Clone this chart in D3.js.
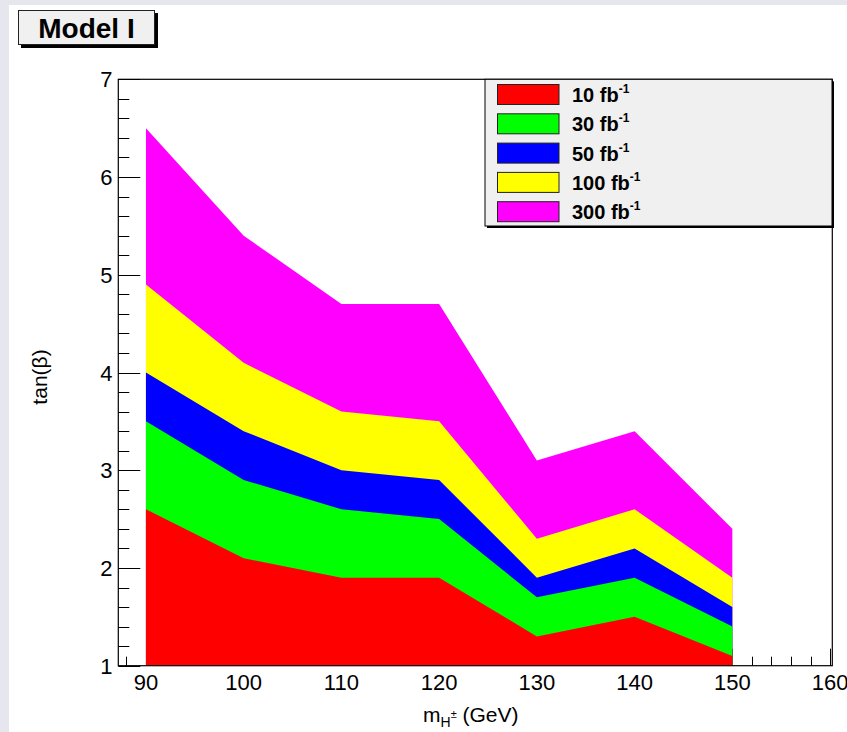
<!DOCTYPE html>
<html>
<head>
<meta charset="utf-8">
<script src="https://cdn.jsdelivr.net/npm/d3@7"></script>
<style>
  html, body { margin: 0; padding: 0; background: #e6e6ef; }
  svg { display: block; }
  text { font-family: "Liberation Sans", Arial, Helvetica, sans-serif; fill: #000; }
</style>
</head>
<body>
<svg id="chart" width="847" height="732"></svg>
<script>
// Charged Higgs mass points (GeV)
const masses = [90, 100, 110, 120, 130, 140, 150];

// Reach in tan(beta) for each integrated luminosity
const lumiLabels = ["10", "30", "50", "100", "300"];
const reach10  = [2.6, 2.1, 1.9, 1.9, 1.3, 1.5, 1.1];
const reach30  = [3.5, 2.9, 2.6, 2.5, 1.7, 1.9, 1.4];
const reach50  = [4.0, 3.4, 3.0, 2.9, 1.9, 2.2, 1.6];
const reach100 = [4.9, 4.1, 3.6, 3.5, 2.3, 2.6, 1.9];
const reach300 = [6.5, 5.4, 4.7, 4.7, 3.1, 3.4, 2.4];
const colors = ["#ff0000", "#00ff00", "#0000ff", "#ffff00", "#ff00ff"];

const xTicks = [90, 100, 110, 120, 130, 140, 150, 160];
const yTicks = [1, 2, 3, 4, 5, 6, 7];

const series = [reach10, reach30, reach50, reach100, reach300];

const svg = d3.select("#chart");

// canvas area
svg.append("rect").attr("x", 9).attr("y", 5).attr("width", 838).attr("height", 727).attr("fill", "#fff");

const frame = { left: 118.3, right: 832.3, top: 79.3, bottom: 665.7 };
const x = d3.scaleLinear().domain([87.17, 160.23]).range([frame.left, frame.right]);
const y = d3.scaleLinear().domain([1, 7]).range([frame.bottom, frame.top]);

// ticks (drawn below the filled regions)
const ticksG = svg.append("g").attr("stroke", "#000").attr("stroke-width", 1);
d3.range(88, 160.01, 2).forEach(v => {
  const major = Math.abs(v % 10) < 1e-6;
  const px = Math.round(x(v)) + 0.5;
  ticksG.append("line").attr("x1", px).attr("x2", px)
    .attr("y1", frame.bottom).attr("y2", frame.bottom - (major ? 17 : 9));
});
d3.range(1, 7.001, 0.2).forEach(v => {
  const major = Math.abs(v - Math.round(v)) < 1e-6;
  const py = Math.round(y(v)) + 0.5;
  ticksG.append("line").attr("x1", frame.left).attr("x2", frame.left + (major ? 22 : 11))
    .attr("y1", py).attr("y2", py);
});

// filled reach regions, widest first
const area = d3.area()
  .x((d, i) => x(masses[i]))
  .y0(y(1))
  .y1(d => y(d));
for (let k = series.length - 1; k >= 0; k--) {
  svg.append("path").datum(series[k]).attr("d", area).attr("fill", colors[k]);
}

// frame
svg.append("rect")
  .attr("x", frame.left).attr("y", frame.top)
  .attr("width", frame.right - frame.left).attr("height", frame.bottom - frame.top)
  .attr("fill", "none").attr("stroke", "#000").attr("stroke-width", 1.2);

// tick labels
const labelSize = 22;
svg.append("g").selectAll("text").data(xTicks).join("text")
  .attr("x", d => x(d)).attr("y", 690)
  .attr("text-anchor", "middle").attr("font-size", labelSize)
  .text(d => d);
svg.append("g").selectAll("text").data(yTicks).join("text")
  .attr("x", 112.5).attr("y", d => y(d) + 8)
  .attr("text-anchor", "end").attr("font-size", labelSize)
  .text(d => d);

// axis titles
const xt = svg.append("text").attr("x", 423).attr("y", 722).attr("font-size", 21);
xt.append("tspan").text("m");
xt.append("tspan").attr("font-size", 14).attr("dy", 5).text("H");
xt.append("tspan").attr("font-size", 11).attr("dy", -9).text("±");
xt.append("tspan").attr("dy", 4).text(" (GeV)");

svg.append("text")
  .attr("transform", "translate(47,377) rotate(-90)")
  .attr("text-anchor", "middle").attr("font-size", 21)
  .text("tan(β)");

// legend
const lg = { x: 485, y: 79.3, w: 347, h: 146.7 };
svg.append("rect").attr("x", lg.x + 2).attr("y", lg.y + 2).attr("width", lg.w).attr("height", lg.h).attr("fill", "#000");
svg.append("rect").attr("x", lg.x).attr("y", lg.y).attr("width", lg.w).attr("height", lg.h)
  .attr("fill", "#f0f0f0").attr("stroke", "#000").attr("stroke-width", 1);
lumiLabels.forEach((lab, i) => {
  const ry = 84.5 + i * 29.3;
  svg.append("rect").attr("x", 497.5).attr("y", ry).attr("width", 61.5).attr("height", 20)
    .attr("fill", colors[i]).attr("stroke", "#222").attr("stroke-width", 1);
  const t = svg.append("text").attr("x", 572).attr("y", ry + 17.5)
    .attr("font-size", 20).attr("font-weight", "bold");
  t.append("tspan").text(lab + " fb");
  t.append("tspan").attr("font-size", 12).attr("dy", -9).text("-1");
});

// title box
svg.append("rect").attr("x", 21).attr("y", 13).attr("width", 137).attr("height", 35).attr("fill", "#000");
svg.append("rect").attr("x", 18.5).attr("y", 10.5).attr("width", 136).attr("height", 34)
  .attr("fill", "#f0f0f0").attr("stroke", "#222").attr("stroke-width", 1);
svg.append("text").attr("x", 86.5).attr("y", 37.5).attr("text-anchor", "middle")
  .attr("font-size", 28).attr("font-weight", "bold").text("Model I");
</script>
</body>
</html>
